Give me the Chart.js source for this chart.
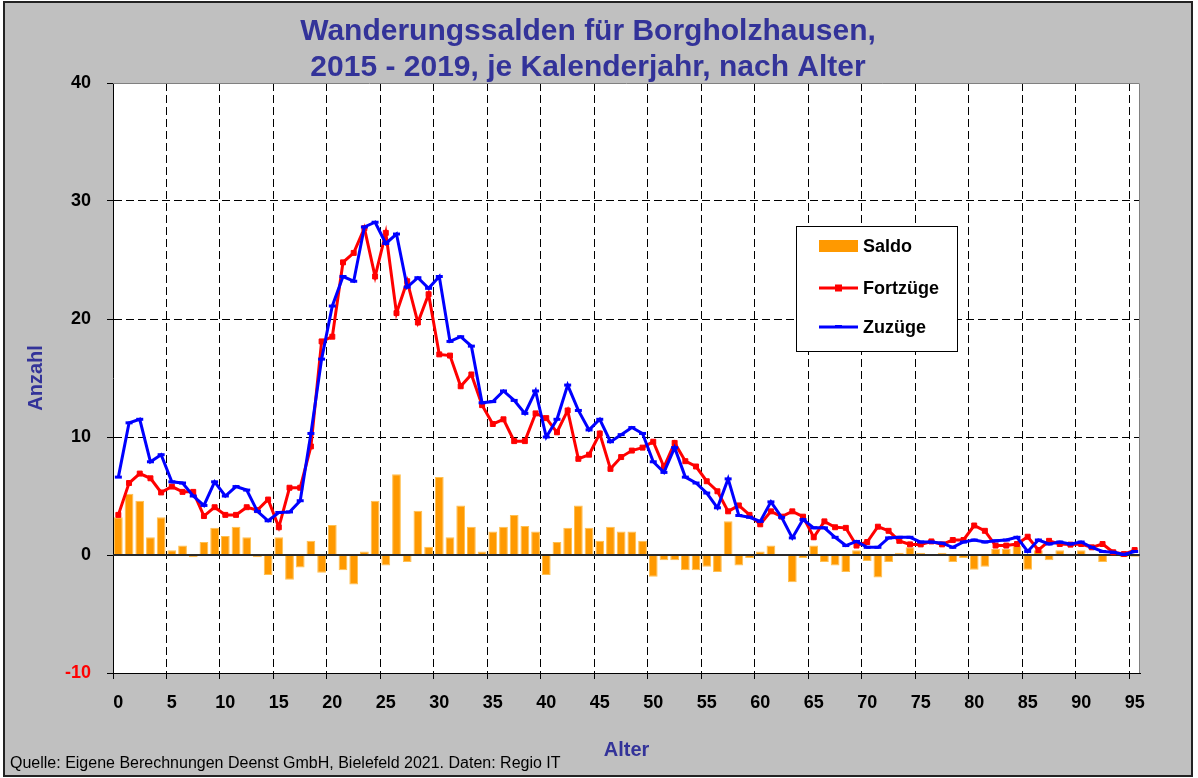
<!DOCTYPE html>
<html>
<head>
<meta charset="utf-8">
<script src="https://cdn.jsdelivr.net/npm/chart.js@4.4.1/dist/chart.umd.min.js"></script>
<style>
  body { margin: 0; background: #fff; }
  canvas { display: block; }
</style>
</head>
<body>
<canvas id="chart" width="1198" height="778"></canvas>
<script>
const ages = [0, 1, 2, 3, 4, 5, 6, 7, 8, 9, 10, 11, 12, 13, 14, 15, 16, 17, 18, 19,
  20, 21, 22, 23, 24, 25, 26, 27, 28, 29, 30, 31, 32, 33, 34, 35, 36, 37, 38, 39,
  40, 41, 42, 43, 44, 45, 46, 47, 48, 49, 50, 51, 52, 53, 54, 55, 56, 57, 58, 59,
  60, 61, 62, 63, 64, 65, 66, 67, 68, 69, 70, 71, 72, 73, 74, 75, 76, 77, 78, 79,
  80, 81, 82, 83, 84, 85, 86, 87, 88, 89, 90, 91, 92, 93, 94, 95];

const saldo = [3.2, 5.2, 4.6, 1.5, 3.2, 0.4, 0.8, -0.2, 1.1, 2.3, 1.6, 2.4, 1.5, -0.2, -1.7, 1.5, -2.1, -1.05, 1.2, -1.5,
  2.55, -1.3, -2.5, 0.3, 4.6, -0.9, 6.85, -0.6, 3.75, 0.7, 6.6, 1.5, 4.2, 2.4, 0.3, 2.0, 2.4, 3.4, 2.45, 2.0,
  -1.7, 1.1, 2.3, 4.2, 2.3, 1.2, 2.4, 2.0, 2.0, 1.2, -1.85, -0.45, -0.45, -1.3, -1.3, -1.0, -1.45, 2.85, -0.9, -0.25,
  0.3, 0.8, 0, -2.3, -0.25, 0.8, -0.6, -0.9, -1.45, 0.4, -0.5, -1.9, -0.6, 0.2, 0.65, 0.2, 0, 0.2, -0.6, -0.25,
  -1.25, -1.0, 0.5, 0.5, 0.8, -1.25, 0.4, -0.45, 0.4, 0.1, 0.4, 0, -0.6, 0.1, -0.2, -0.15];

const fortzuege = [3.4, 6.1, 6.9, 6.5, 5.3, 5.8, 5.35, 5.35, 3.3, 4.05, 3.4, 3.4, 4.05, 3.8, 4.7, 2.35, 5.7, 5.7, 9.2, 18.1,
  18.5, 24.8, 25.6, 27.7, 23.6, 27.3, 20.5, 23.2, 19.7, 22.1, 17.0, 16.9, 14.3, 15.3, 12.7, 11.1, 11.5, 9.65, 9.65, 12.0,
  11.6, 10.4, 12.25, 8.15, 8.5, 10.3, 7.3, 8.3, 8.85, 9.1, 9.6, 7.45, 9.5, 7.95, 7.5, 6.25, 5.4, 3.7, 4.2, 3.4,
  2.6, 3.7, 3.25, 3.7, 3.25, 1.5, 2.85, 2.35, 2.3, 0.8, 1.1, 2.4, 2.05, 1.2, 0.9, 0.9, 1.15, 0.9, 1.27, 1.27,
  2.5, 2.05, 0.8, 0.8, 0.93, 1.55, 0.42, 1.2, 0.93, 0.88, 0.93, 0.65, 0.93, 0.23, 0.08, 0.42];

const zuzuege = [6.6, 11.2, 11.5, 7.9, 8.5, 6.2, 6.1, 5.0, 4.2, 6.2, 5.0, 5.8, 5.5, 3.7, 2.9, 3.6, 3.65, 4.6, 10.3, 16.6,
  21.1, 23.6, 23.2, 27.8, 28.2, 26.4, 27.2, 22.7, 23.5, 22.6, 23.6, 18.1, 18.5, 17.7, 12.9, 13.0, 13.9, 13.1, 12.0, 13.9,
  10.0, 11.5, 14.4, 12.25, 10.6, 11.5, 9.6, 10.2, 10.8, 10.3, 7.9, 7.0, 9.1, 6.6, 6.1, 5.25, 4.0, 6.45, 3.35, 3.2,
  2.85, 4.5, 3.2, 1.45, 3.0, 2.3, 2.3, 1.5, 0.8, 1.15, 0.65, 0.65, 1.45, 1.5, 1.5, 1.1, 1.1, 1.0, 0.65, 1.1,
  1.27, 1.1, 1.2, 1.27, 1.5, 0.3, 1.27, 0.93, 1.1, 0.93, 1.1, 0.65, 0.3, 0.23, 0.05, 0.3];

const titleLines = ['Wanderungssalden für Borgholzhausen,', '2015 - 2019, je Kalenderjahr, nach Alter'];
const sourceNote = 'Quelle: Eigene Berechnungen Deenst GmbH, Bielefeld 2021. Daten: Regio IT';

const FONT = '"Liberation Sans", Arial, sans-serif';
const BLUE_TEXT = '#333399';

// grey frame, white plot area, top/right plot border
const background = {
  id: 'background',
  beforeDraw(chart) {
    const { ctx, width, height, chartArea } = chart;
    ctx.save();
    ctx.fillStyle = '#ffffff';
    ctx.fillRect(0, 0, width, height);
    ctx.fillStyle = '#c0c0c0';
    ctx.fillRect(4, 2, 1188, 774);
    ctx.strokeStyle = '#222';
    ctx.lineWidth = 2;
    ctx.strokeRect(4, 2, 1188, 774);
    ctx.fillStyle = '#ffffff';
    ctx.fillRect(chartArea.left, chartArea.top, chartArea.right - chartArea.left, chartArea.bottom - chartArea.top);
    ctx.restore();
  },
  beforeDatasetsDraw(chart) {
    const { ctx, chartArea } = chart;
    ctx.save();
    ctx.strokeStyle = '#808080';
    ctx.lineWidth = 1;
    ctx.beginPath();
    ctx.moveTo(chartArea.left, chartArea.top + 0.5);
    ctx.lineTo(chartArea.right - 0.5, chartArea.top + 0.5);
    ctx.lineTo(chartArea.right - 0.5, chartArea.bottom);
    ctx.stroke();
    ctx.restore();
  }
};

// dark zero line drawn over the bars
const zeroLine = {
  id: 'zeroLine',
  afterDatasetDraw(chart, args) {
    if (args.index !== 0) return;
    const { ctx, chartArea, scales } = chart;
    const y = scales.y.getPixelForValue(0);
    ctx.save();
    ctx.strokeStyle = '#2a2a2a';
    ctx.lineWidth = 2;
    ctx.beginPath();
    ctx.moveTo(chartArea.left, y);
    ctx.lineTo(chartArea.right, y);
    ctx.stroke();
    ctx.restore();
  }
};

const texts = {
  id: 'texts',
  afterDraw(chart) {
    const { ctx } = chart;
    ctx.save();
    ctx.fillStyle = BLUE_TEXT;
    ctx.font = 'bold 30px ' + FONT;
    ctx.textAlign = 'center';
    ctx.textBaseline = 'alphabetic';
    ctx.fillText(titleLines[0], 588, 40);
    ctx.fillText(titleLines[1], 588, 76);

    ctx.fillStyle = '#000';
    ctx.font = '16px ' + FONT;
    ctx.textAlign = 'left';
    ctx.fillText(sourceNote, 10, 768);

    // legend box
    const bx = 796, by = 226, bw = 161, bh = 125;
    ctx.fillStyle = '#fff';
    ctx.fillRect(bx, by, bw, bh);
    ctx.strokeStyle = '#000';
    ctx.lineWidth = 1;
    ctx.strokeRect(bx + 0.5, by + 0.5, bw, bh);
    const rows = [246, 288, 327];
    ctx.font = 'bold 18px ' + FONT;
    ctx.textBaseline = 'middle';
    chart.data.datasets.forEach((ds, i) => {
      const y = rows[i];
      if (ds.type === 'line') {
        ctx.strokeStyle = ds.borderColor;
        ctx.lineWidth = 3;
        ctx.beginPath();
        ctx.moveTo(819, y);
        ctx.lineTo(858, y);
        ctx.stroke();
        if (ds.pointStyle === 'rect') {
          ctx.fillStyle = ds.borderColor;
          ctx.fillRect(835, y - 3.5, 7, 7);
        } else {
          ctx.fillStyle = ds.borderColor;
          ctx.fillRect(835, y - 2, 7, 3);
        }
      } else {
        ctx.fillStyle = ds.backgroundColor;
        ctx.fillRect(819, y - 6, 39, 12);
      }
      ctx.fillStyle = '#000';
      ctx.fillText(ds.label, 863, y + 1);
    });
    ctx.restore();
  }
};

const config = {
  type: 'bar',
  data: {
    labels: ages,
    datasets: [
      {
        label: 'Saldo',
        data: saldo,
        backgroundColor: '#ff9900',
        borderColor: '#ffc050',
        borderWidth: 1,
        barPercentage: 0.82,
        categoryPercentage: 1.0,
        order: 3
      },
      {
        type: 'line',
        label: 'Fortzüge',
        data: fortzuege,
        borderColor: '#ff0000',
        backgroundColor: '#ff0000',
        borderWidth: 3,
        pointStyle: 'rect',
        pointRadius: 3.5,
        pointBorderWidth: 1,
        pointBackgroundColor: '#ff0000',
        tension: 0,
        fill: false,
        order: 2
      },
      {
        type: 'line',
        label: 'Zuzüge',
        data: zuzuege,
        borderColor: '#0000ff',
        backgroundColor: '#0000ff',
        borderWidth: 3,
        pointStyle: 'line',
        pointRadius: 3.5,
        pointBorderWidth: 3,
        pointBorderColor: '#0000ff',
        tension: 0,
        fill: false,
        order: 1
      }
    ]
  },
  options: {
    responsive: false,
    animation: false,
    events: [],
    layout: {
      padding: { top: 83, right: 58, bottom: 0, left: 0 }
    },
    plugins: {
      legend: { display: false },
      title: { display: false },
      tooltip: { enabled: false }
    },
    scales: {
      x: {
        type: 'category',
        offset: true,
        afterFit(scale) { scale.height = 105; },
        grid: {
          offset: true,
          color: (c) => (c.index > 0 && c.index % 5 === 0 && c.index < ages.length) ? '#000' : 'rgba(0,0,0,0)',
          tickColor: (c) => (c.index % 5 === 0 && c.index < ages.length) ? '#000' : 'rgba(0,0,0,0)',
          lineWidth: 1,
          tickLength: 6
        },
        border: { display: true, color: '#000', width: 1, dash: [8, 4] },
        ticks: {
          autoSkip: false,
          maxRotation: 0,
          padding: 13,
          color: '#000',
          font: { family: FONT, size: 18, weight: 'bold' },
          callback: (v, i) => (i % 5 === 0 ? String(ages[i]) : '')
        },
        title: {
          display: true,
          text: 'Alter',
          color: BLUE_TEXT,
          font: { family: FONT, size: 20, weight: 'bold' },
          padding: { top: 0, bottom: 16 }
        }
      },
      y: {
        min: -10,
        max: 40,
        afterFit(scale) { scale.width = 113; },
        grid: {
          color: (c) => ([10, 20, 30].includes(c.tick.value) ? '#000' : 'rgba(0,0,0,0)'),
          tickColor: '#000',
          lineWidth: 1,
          tickLength: 6
        },
        border: { display: true, color: '#000', width: 1, dash: [8, 4] },
        ticks: {
          stepSize: 10,
          padding: 16,
          color: (c) => (c.tick.value === -10 ? '#ff0000' : '#000'),
          font: { family: FONT, size: 18, weight: 'bold' }
        },
        title: {
          display: true,
          text: 'Anzahl',
          color: BLUE_TEXT,
          font: { family: FONT, size: 20, weight: 'bold' },
          padding: { top: 24, bottom: 0 }
        }
      }
    }
  },
  plugins: [background, zeroLine, texts]
};

new Chart(document.getElementById('chart').getContext('2d'), config);
</script>
</body>
</html>
